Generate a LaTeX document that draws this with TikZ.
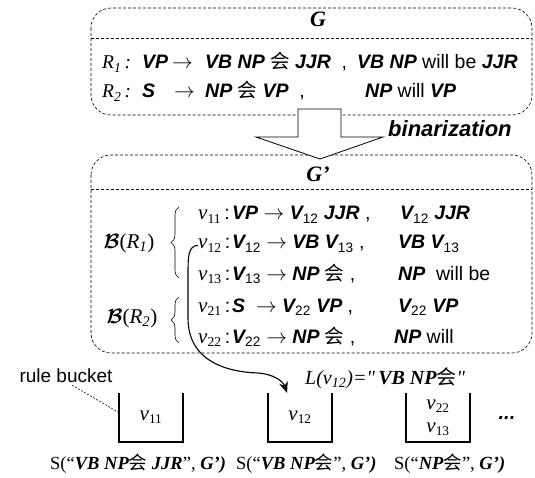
\documentclass[tikz,border=0pt]{standalone}
\usepackage{fontspec}
\setmainfont{Liberation Sans}
\newfontfamily\serif{Liberation Serif}
\newfontfamily\cjk{Noto Sans CJK SC}
\usetikzlibrary{arrows.meta,decorations.pathreplacing,calc}
\newcommand\bi[1]{{\bfseries\itshape #1}}
\newcommand\sbi[1]{{\serif\bfseries\itshape #1}}
\newcommand\Vs[1]{\bi{V}\textsubscript{\normalfont #1}}
\newcommand\vv[1]{{\serif\itshape\fontsize{21}{22}\selectfont v}\textsubscript{\serif\upshape #1}}
\newcommand\hui{{\cjk 会}}
\begin{document}
\begin{tikzpicture}[x=1pt,y=-1pt,
  dbox/.style={draw, line width=0.6pt, dash pattern=on 3pt off 2pt, rounded corners=20pt},
  sepline/.style={draw, line width=0.6pt, dash pattern=on 3pt off 2pt},
  row/.style={inner sep=0pt, anchor=base west, font=\fontsize{19.5}{22}\selectfont},
  title/.style={inner sep=0pt, anchor=base, font=\fontsize{22}{24}\selectfont\serif\bfseries\itshape},
  bucket/.style={minimum width=64pt, minimum height=49pt, inner sep=0pt, font=\fontsize{19}{23}\selectfont, align=center},
  bucketline/.style={line width=1.5pt},
  lbl/.style={inner sep=0pt, anchor=base west, font=\fontsize{18.5}{22}\selectfont\serif},
  bracestyle/.style={decorate, decoration={brace, amplitude=8pt}, line width=0.6pt},
  curvearrow/.style={line width=1.1pt, -{Stealth[length=11pt,width=9pt]}},
  leader/.style={line width=0.5pt, dash pattern=on 2pt off 1.5pt}
]
\useasboundingbox (0,0) rectangle (535,478);
% ---------------- G box
\path[dbox] (91,8) rectangle (532,115);
\draw[sepline] (91,38) -- (532,38);
\node[title] (G) at (318,27) {G};
\node[row] (r1lab) at (102,69) {\serif\itshape R\textsubscript{1}\,:};
\node[row] (r1lhs) at (142,69) {\bi{VP}};
\node[row] (r1arr) at (172,69) {$\rightarrow$};
\node[row] (r1rhs) at (205,69) {\bi{VB NP} \hui\ \bi{JJR}\ \ ,};
\node[row] (r1tgt) at (357,69) {\bi{VB NP} will be \bi{JJR}};
\node[row] (r2lab) at (102,98) {\serif\itshape R\textsubscript{2}\,:};
\node[row] (r2lhs) at (142,98) {\bi{S}};
\node[row] (r2arr) at (174,98) {$\rightarrow$};
\node[row] (r2rhs) at (205,98) {\bi{NP} \hui\ \bi{VP}\ \ ,};
\node[row] (r2tgt) at (365,98) {\bi{NP} will \bi{VP}};
% ---------------- G' box
\path[dbox] (91,155) rectangle (532,353);
\draw[sepline] (91,189) -- (532,189);
\node[title] (Gp) at (318,182) {G’};
% block arrow
\draw[fill=white, line width=0.8pt] (298,109) -- (341,109) -- (341,137) -- (383,137) -- (320,159) -- (256,137) -- (298,137) -- cycle;
\node[inner sep=0pt, anchor=base west, font=\fontsize{22}{24}\selectfont\bfseries\itshape] (bin) at (388,137) {binarization};
% rows
\node[row] (l11) at (198,220) {\vv{11}\,:};
\node[row] (s11) at (232,220) {\bi{VP} $\rightarrow$ \Vs{12} \bi{JJR} ,};
\node[row] (t11) at (400,220) {\Vs{12} \bi{JJR}};
\node[row] (l12) at (198,249) {\vv{12}\,:};
\node[row] (s12) at (232,249) {\Vs{12} $\rightarrow$ \bi{VB} \Vs{13} ,};
\node[row] (t12) at (398,249) {\bi{VB} \Vs{13}};
\node[row] (l13) at (198,280) {\vv{13}\,:};
\node[row] (s13) at (232,280) {\Vs{13} $\rightarrow$ \bi{NP} \hui\ ,};
\node[row] (t13) at (398,280) {\bi{NP}\ \ will be};
\node[row] (l21) at (198,312) {\vv{21}\,:};
\node[row] (s21) at (232,312) {\bi{S}\ \ $\rightarrow$ \Vs{22} \bi{VP} ,};
\node[row] (t21) at (398,312) {\Vs{22} \bi{VP}};
\node[row] (l22) at (198,343) {\vv{22}\,:};
\node[row] (s22) at (232,343) {\Vs{22} $\rightarrow$ \bi{NP} \hui\ ,};
\node[row] (t22) at (394,343) {\bi{NP} will};
% braces
\node[inner sep=0pt, font=\fontsize{21}{24}\selectfont] (B1) at (129,243) {{\boldmath$\mathcal{B}$}{\serif(\textit{R\textsubscript{1}})}};
\draw[bracestyle] (179,278) -- (179,207);
\node[inner sep=0pt, font=\fontsize{21}{24}\selectfont] (B2) at (132,318) {{\boldmath$\mathcal{B}$}{\serif(\textit{R\textsubscript{2}})}};
\draw[bracestyle] (179,343) -- (179,297);
% ---------------- buckets
\node[bucket] (b1) at (151,417.5) {\vv{11}};
\node[bucket] (b2) at (300,417.5) {\vv{12}};
\node[bucket] (b3) at (438,417.5) {\vv{22}\\\vv{13}};
\foreach \b in {b1,b2,b3}
  \draw[bucketline] (\b.north west) -- (\b.south west) -- (\b.south east) -- (\b.north east);
\node[inner sep=0pt, font=\fontsize{20}{22}\selectfont\bfseries\itshape] (dots) at (507,418) {...};
\node[inner sep=0pt, font=\fontsize{19}{22}\selectfont] (rb) at (66,376) {rule bucket};
\draw[leader] ($(rb.south)+(6,2)$) -- ($(b1.west)+(0,-5)$);
\node[lbl, font=\fontsize{20}{22}\selectfont\serif] (Lv) at (305,384) {\itshape L(v\textsubscript{12})=\textquotedbl\sbi{\,VB NP}\hui\textquotedbl};
% curve
\draw[curvearrow] (l12.west) .. controls (188,246) and (188,256) .. (188,276) -- (188,318) .. controls (188,362) and (228,372) .. (258,373) .. controls (273,374) and (283,381) .. ($(b2.north)+(-13,0)$);
% bottom labels
\node[lbl] (S1) at (50,469) {S(“\sbi{VB NP}\hui\ \sbi{JJR}”, \sbi{G’)}};
\node[lbl] (S2) at (236,469) {S(“\sbi{VB NP}\hui”, \sbi{G’)}};
\node[lbl] (S3) at (394,469) {S(“\sbi{NP}\hui”, \sbi{G’)}};
\end{tikzpicture}
\end{document}
